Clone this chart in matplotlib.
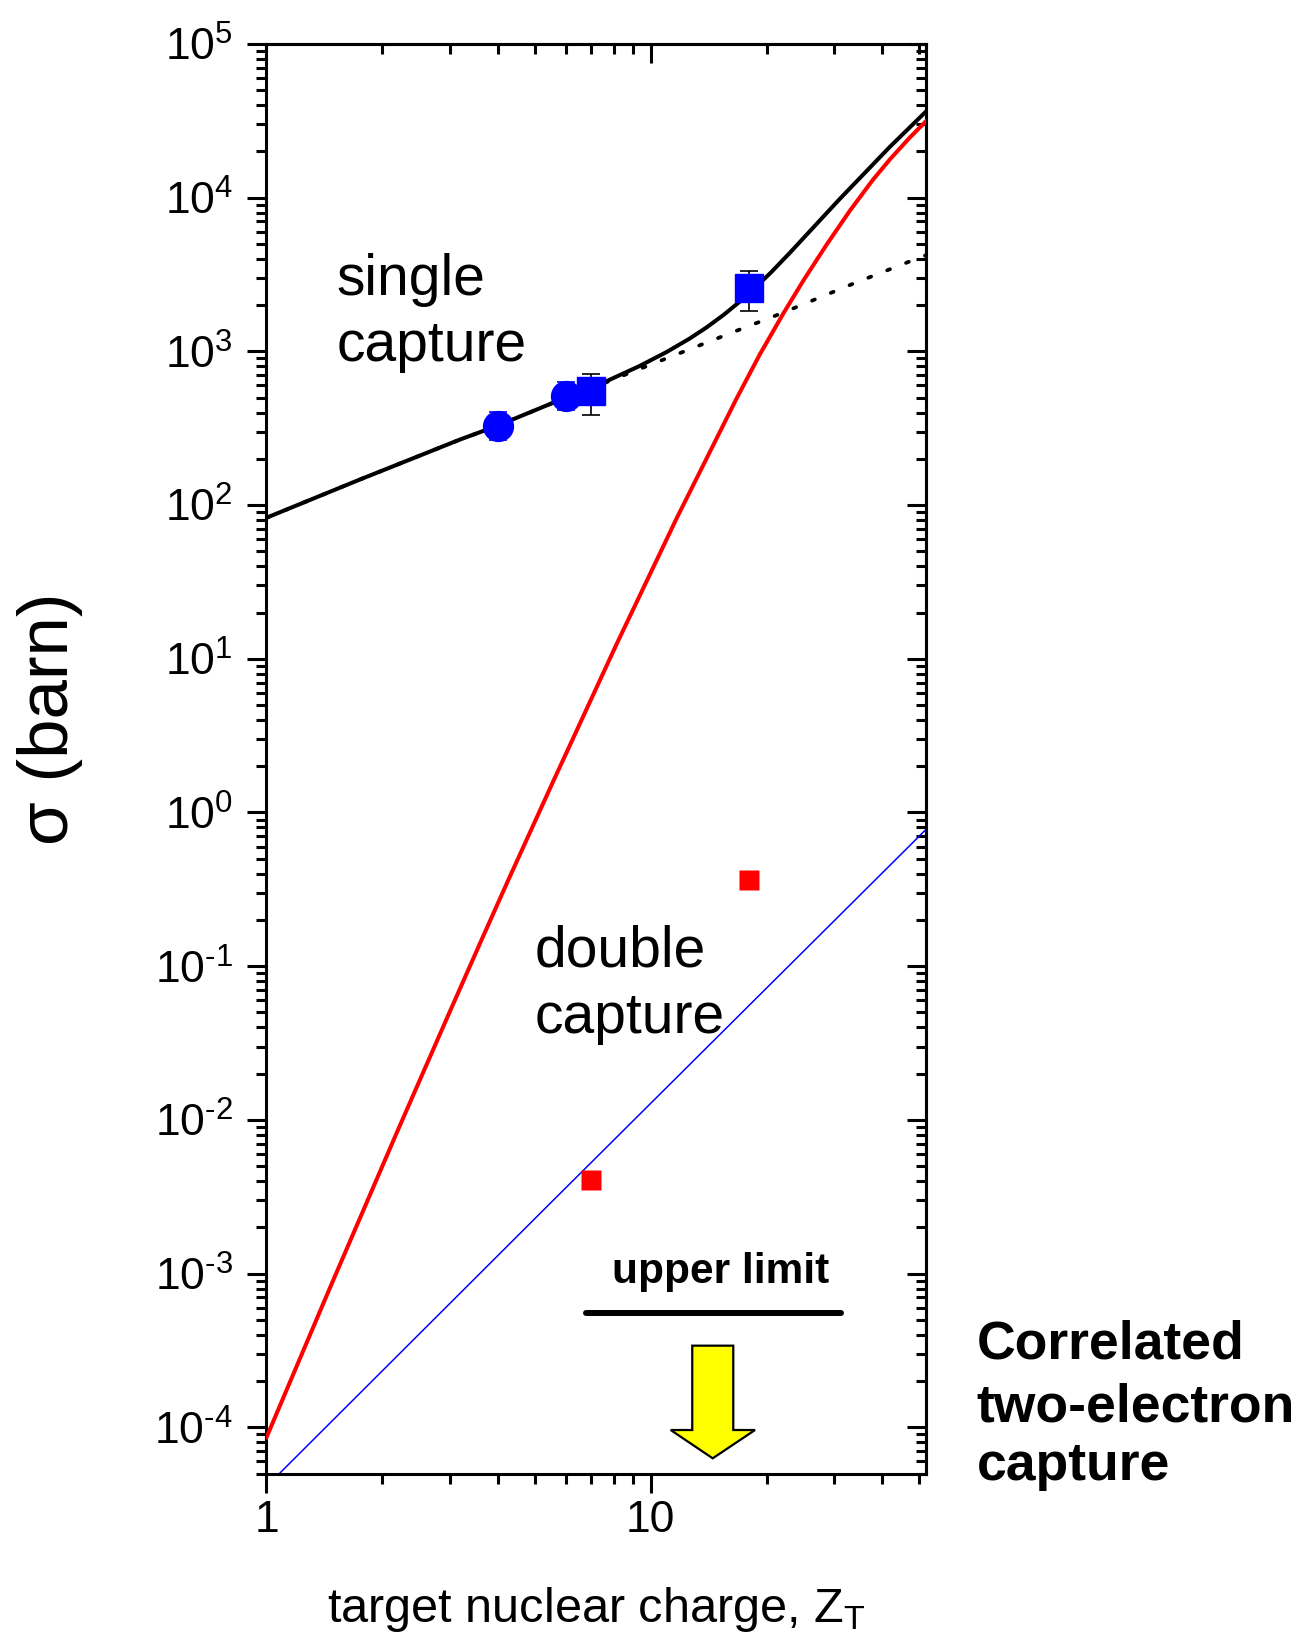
import numpy as np
import matplotlib
matplotlib.use('Agg')
import matplotlib.pyplot as plt
from matplotlib.ticker import LogLocator, NullFormatter, FixedLocator, FixedFormatter
from matplotlib.patches import Polygon

plt.rcParams['font.family'] = ['Liberation Sans', 'DejaVu Sans']
plt.rcParams['mathtext.fontset'] = 'custom'
plt.rcParams['mathtext.rm'] = 'Liberation Sans'
plt.rcParams['mathtext.it'] = 'Liberation Sans:italic'
plt.rcParams['mathtext.bf'] = 'Liberation Sans:bold'
plt.rcParams['mathtext.default'] = 'regular'

# single capture, total (solid black)
z_single = [1, 1.75, 3.19, 4, 6, 7, 7.57, 9.36, 11, 12.6, 14, 15.5, 17, 18.5, 20.5,
            22.97, 31, 41.8, 52.1]
s_single = [82.7, 146.6, 267, 329, 500, 580, 630, 804, 991, 1208, 1437, 1734, 2096, 2533,
            3243, 4360, 9790, 21300, 36500]

# single capture without the steep high-Z part (dotted black)
z_dotted = [1, 1.75, 3.19, 4, 6, 7, 8.66, 12.1, 17.0, 21.4, 33.6, 47.6, 52.1]
s_dotted = [82.7, 146.6, 267, 329, 500, 575, 712, 990, 1384, 1730, 2754, 3880, 4230]

# double capture, uncorrelated (red)
z_double = [1, 1.46, 2.18, 2.94, 3.63, 4.25, 5.57, 8.14, 11.66, 16.7, 19.2, 22.1, 25,
            28.6, 33, 37.8, 42, 47, 52.1]
s_double = [8.6e-5, 8.0e-4, 8.2e-3, 0.0452, 0.149, 0.360, 1.59, 12.4, 81.5, 491, 952, 1757,
            2915, 4900, 8260, 13030, 17870, 24330, 31600]

# correlated double capture (thin blue)
z_corr = [1.08, 5.46, 46.2, 52.1]
s_corr = [5e-5, 2.85e-3, 0.578, 0.78]

# measured single capture
z_circ = [4, 6]
s_circ = [329, 515]
e_circ = [[62, 100], [75, 120]]
z_sq = [7, 18]
s_sq = [549, 2580]
e_sq = [[161, 760], [167, 763]]

# measured double capture
z_dsq = [7, 18]
s_dsq = [4.08e-3, 0.366]

# upper limit bar
z_limit = [6.77, 31.2]
s_limit = [5.58e-4, 5.58e-4]

ytick_vals = [1e-4, 1e-3, 1e-2, 1e-1, 1e0, 1e1, 1e2, 1e3, 1e4, 1e5]
ytick_labels = [r'$\mathregular{10^{\text{-}4}}$', r'$\mathregular{10^{\text{-}3}}$',
                r'$\mathregular{10^{\text{-}2}}$', r'$\mathregular{10^{\text{-}1}}$',
                r'$\mathregular{10^{0}}$', r'$\mathregular{10^{1}}$',
                r'$\mathregular{10^{2}}$', r'$\mathregular{10^{3}}$',
                r'$\mathregular{10^{4}}$', r'$\mathregular{10^{5}}$']
xtick_vals = [1, 10]
xtick_labels = ['1', '10']

fig = plt.figure(figsize=(12.98, 16.39), dpi=100)
ax = fig.add_axes([0.2053, 0.1009, 0.5081, 0.8723])
ax.set_xscale('log')
ax.set_yscale('log')

ax.plot(z_corr, s_corr, color='blue', lw=1.1, zorder=2)
ax.plot(z_dotted, s_dotted, color='black', lw=2.7, linestyle=(0, (0.8, 4.6)),
        dash_capstyle='round', zorder=3)
ax.plot(z_single, s_single, color='black', lw=2.9, zorder=3)
ax.plot(z_double, s_double, color='red', lw=2.9, zorder=4)

ax.errorbar(z_circ, s_circ, yerr=e_circ, fmt='o', color='blue', ms=21.5,
            ecolor='blue', elinewidth=1.2, capsize=6.5, capthick=1.2, zorder=5)
ax.errorbar(z_sq, s_sq, yerr=e_sq, fmt='s', color='blue', ms=19.5,
            ecolor='black', elinewidth=1.2, capsize=6.8, capthick=1.2, zorder=5)
ax.plot(z_dsq, s_dsq, 's', color='red', ms=14, mec='none', zorder=5)

ax.plot(z_limit, s_limit, color='black', lw=4.3, solid_capstyle='round', zorder=5)
ax.text(15.2, 8.75e-4, 'upper limit', fontsize=30.5, fontweight='bold',
        ha='center', va='baseline')

arrow = Polygon([[0.6456, 0.0895], [0.7078, 0.0895], [0.7078, 0.0305],
                 [0.7407, 0.0305], [0.6766, 0.0107], [0.6129, 0.0305],
                 [0.6456, 0.0305]], closed=True, transform=ax.transAxes,
                facecolor='yellow', edgecolor='black', lw=1.6, zorder=6)
ax.add_patch(arrow)

ax.text(0.106, 0.8246, 'single', transform=ax.transAxes, fontsize=41, va='baseline')
ax.text(0.106, 0.7785, 'capture', transform=ax.transAxes, fontsize=41, va='baseline')
ax.text(0.4071, 0.3546, 'double', transform=ax.transAxes, fontsize=41, va='baseline')
ax.text(0.4071, 0.3080, 'capture', transform=ax.transAxes, fontsize=41, va='baseline')

ax.set_xlim(1, 52)
ax.set_ylim(5e-5, 1e5)

ax.xaxis.set_major_locator(FixedLocator(xtick_vals))
ax.xaxis.set_major_formatter(FixedFormatter(xtick_labels))
ax.xaxis.set_minor_locator(LogLocator(base=10, subs=np.arange(2, 10), numticks=30))
ax.xaxis.set_minor_formatter(NullFormatter())
ax.yaxis.set_major_locator(FixedLocator(ytick_vals))
ax.yaxis.set_major_formatter(FixedFormatter(ytick_labels))
ax.yaxis.set_minor_locator(LogLocator(base=10, subs=np.arange(2, 10), numticks=30))
ax.yaxis.set_minor_formatter(NullFormatter())

ax.tick_params(which='both', direction='out', width=2.2, labelsize=32,
               top=False, right=False)
ax.tick_params(which='major', length=14)
ax.tick_params(which='minor', length=7.5)
ax.tick_params(axis='x', pad=5)
ax.tick_params(axis='y', pad=10)
for sp in ax.spines.values():
    sp.set_linewidth(2.2)

secx = ax.secondary_xaxis('top')
secx.xaxis.set_major_locator(FixedLocator(xtick_vals))
secx.xaxis.set_minor_locator(LogLocator(base=10, subs=np.arange(2, 10), numticks=30))
secx.xaxis.set_major_formatter(NullFormatter())
secx.xaxis.set_minor_formatter(NullFormatter())
secx.tick_params(which='both', direction='in', width=2.2)
secx.tick_params(which='major', length=14)
secx.tick_params(which='minor', length=7.5)

secy = ax.secondary_yaxis('right')
secy.yaxis.set_major_locator(FixedLocator(ytick_vals))
secy.yaxis.set_minor_locator(LogLocator(base=10, subs=np.arange(2, 10), numticks=30))
secy.yaxis.set_major_formatter(NullFormatter())
secy.yaxis.set_minor_formatter(NullFormatter())
secy.tick_params(which='both', direction='in', width=2.2)
secy.tick_params(which='major', length=14)
secy.tick_params(which='minor', length=7.5)
for s in (secx, secy):
    for sp in s.spines.values():
        sp.set_linewidth(2.2)

fig.text(0.0526, 0.5617, 'σ (barn)', fontsize=51, rotation=90,
         rotation_mode='anchor', ha='center', va='baseline')
fig.text(0.4593, 0.0106, r'target nuclear charge, Z$_\mathregular{T}$', fontsize=35,
         ha='center', va='baseline')

fig.text(0.7525, 0.1713, 'Correlated', fontsize=38.5, fontweight='bold', va='baseline')
fig.text(0.7525, 0.1326, 'two-electron', fontsize=38.5, fontweight='bold', va='baseline')
fig.text(0.7525, 0.0970, 'capture', fontsize=38.5, fontweight='bold', va='baseline')

fig.savefig('out.png', dpi=100)
